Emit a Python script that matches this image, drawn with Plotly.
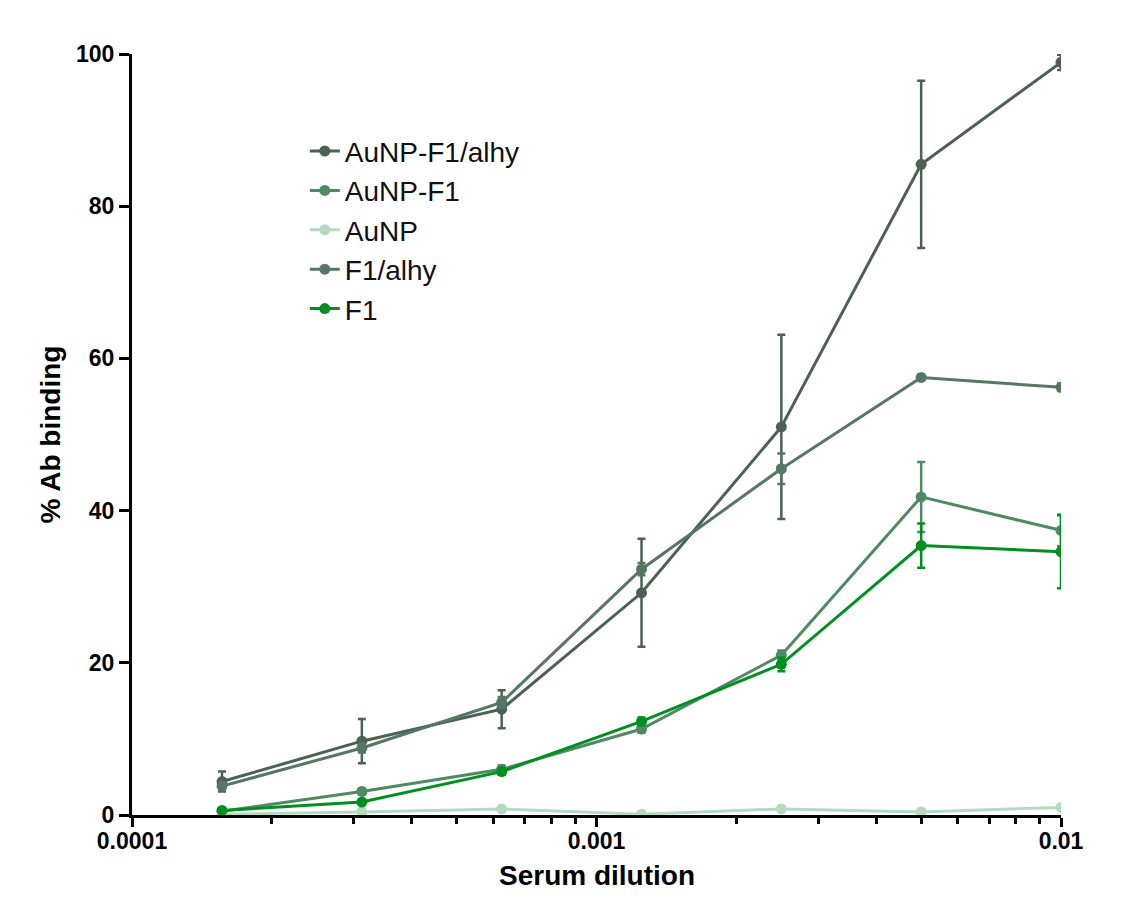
import plotly.graph_objects as go

dilution = [0.00015625, 0.0003125, 0.000625, 0.00125, 0.0025, 0.005, 0.01]

series_names = ["AuNP-F1/alhy", "AuNP-F1", "AuNP", "F1/alhy", "F1"]

aunp_f1_alhy = [4.4, 9.7, 13.9, 29.2, 51.0, 85.5, 98.9]
aunp_f1_alhy_err = [1.3, 2.9, 2.5, 7.1, 12.1, 11.0, 1.0]

aunp_f1 = [0.5, 3.1, 6.0, 11.3, 21.0, 41.8, 37.4]
aunp_f1_err = [0.3, 0.4, 0.5, 0.5, 0.6, 4.6, 2.1]

aunp = [0.1, 0.4, 0.8, 0.1, 0.8, 0.4, 1.0]
aunp_err = [0.1, 0.1, 0.1, 0.1, 0.2, 0.1, 0.2]

f1_alhy = [3.8, 8.8, 14.8, 32.3, 45.5, 57.5, 56.2]
f1_alhy_err = [0.5, 0.6, 0.7, 0.8, 2.0, 0.4, 0.5]

f1 = [0.6, 1.7, 5.7, 12.3, 19.8, 35.4, 34.6]
f1_err = [0.2, 0.3, 0.4, 0.5, 0.9, 2.9, 4.8]

values = [aunp_f1_alhy, aunp_f1, aunp, f1_alhy, f1]
errors = [aunp_f1_alhy_err, aunp_f1_err, aunp_err, f1_alhy_err, f1_err]
colors = ["#4b6153", "#4f8a63", "#b4dbc0", "#567763", "#00901f"]

y_ticks = [0, 20, 40, 60, 80, 100]
x_ticks = [0.0001, 0.001, 0.01]
x_tick_labels = ["0.0001", "0.001", "0.01"]
x_minor = [m * 10 ** e for e in (-4, -3) for m in range(2, 10)]

FONT = "Liberation Sans, Arial, sans-serif"

fig = go.Figure()
for name, vals, errs, col in zip(series_names, values, errors, colors):
    fig.add_trace(go.Scatter(
        x=dilution, y=vals, name=name, mode="lines+markers",
        line=dict(color=col, width=3),
        marker=dict(color=col, size=11),
        error_y=dict(type="data", array=errs, visible=True, color=col,
                     thickness=2.5, width=4),
    ))

fig.update_layout(
    width=1130, height=915,
    margin=dict(l=132, r=69, t=54, b=100),
    paper_bgcolor="white", plot_bgcolor="white",
    font=dict(family=FONT, color="black"),
    showlegend=True,
    legend=dict(x=0.186, y=0.905, xanchor="left", yanchor="top",
                font=dict(size=28, family=FONT, color="#111"),
                bgcolor="rgba(0,0,0,0)", tracegroupgap=0),
    xaxis=dict(
        type="log", range=[-4, -2],
        tickmode="array", tickvals=x_ticks, ticktext=x_tick_labels,
        ticks="outside", ticklen=9, tickwidth=3, tickcolor="black",
        ticklabelstandoff=-6,
        showline=True, linewidth=3, linecolor="black",
        showgrid=False, zeroline=False,
        tickfont=dict(size=23, family=FONT, weight="bold"),
        minor=dict(tickmode="array", tickvals=x_minor, ticks="outside",
                   ticklen=6, tickwidth=3, tickcolor="black", showgrid=False),
    ),
    yaxis=dict(
        range=[0, 100],
        tickmode="array", tickvals=y_ticks,
        ticks="outside", ticklen=10, tickwidth=3, tickcolor="black",
        showline=True, linewidth=3, linecolor="black",
        showgrid=False, zeroline=False,
        tickfont=dict(size=23, family=FONT, weight="bold"),
        title=dict(text="<b>% Ab binding</b>", font=dict(size=28, family=FONT), standoff=8),
    ),
    annotations=[dict(
        text="<b>Serum dilution</b>", xref="paper", yref="paper",
        x=0.5, y=0, xanchor="center", yanchor="middle", yshift=-60,
        showarrow=False, font=dict(size=28, family=FONT, color="black"),
    )],
)

fig.write_html("out.html")
